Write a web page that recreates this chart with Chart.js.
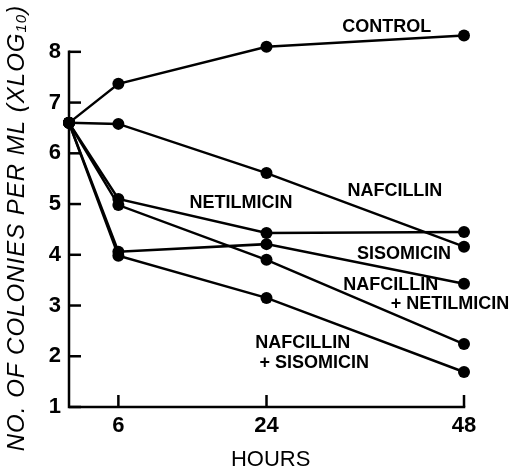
<!DOCTYPE html>
<html>
<head>
<meta charset="utf-8">
<script src="https://cdn.jsdelivr.net/npm/chart.js@4.4.1/dist/chart.umd.min.js"></script>
<style>
  html, body { margin: 0; padding: 0; background: #fff; }
  #wrap { width: 513px; height: 473px; }
</style>
</head>
<body>
<div id="wrap"><canvas id="c"></canvas></div>
<script>
// hours sampled
const hours = [0, 6, 24, 48];
const xTicks = [6, 24, 48];
const yTicks = [1, 2, 3, 4, 5, 6, 7, 8];

// log10 colonies per ml
const control = [6.6, 7.37, 8.10, 8.32];
const nafcillin = [6.6, 6.58, 5.61, 4.16];
const netilmicin = [6.6, 5.10, 4.43, 4.45];
const nafNetil = [6.6, 4.98, 3.90, 2.24];
const sisomicin = [6.6, 4.06, 4.21, 3.43];
const nafSiso = [6.6, 3.98, 3.15, 1.69];

// text labels next to the curves: [text, hours, value]
const curveLabels = [
  ['CONTROL', 38.6, 8.48],
  ['NAFCILLIN', 39.6, 5.25],
  ['NETILMICIN', 20.9, 5.02],
  ['SISOMICIN', 40.7, 4.02],
  ['NAFCILLIN', 39.1, 3.41],
  ['+ NETILMICIN', 46.3, 3.03],
  ['NAFCILLIN', 28.4, 2.26],
  ['+ SISOMICIN', 29.8, 1.87]
];

const FONT = '"Liberation Sans", Arial, sans-serif';

function series(label, vals) {
  return {
    label: label,
    data: vals.map((v, i) => ({ x: hours[i], y: v })),
    borderColor: '#000',
    backgroundColor: '#000',
    borderWidth: 2.5,
    pointRadius: 6,
    pointHoverRadius: 6,
    pointBorderWidth: 0,
    tension: 0,
    clip: false
  };
}

const extras = {
  id: 'extras',
  afterDraw(chart) {
    const ctx = chart.ctx;
    const xs = chart.scales.x, ys = chart.scales.y;
    const y1 = ys.getPixelForValue(yTicks[0]);
    const yTop = ys.getPixelForValue(yTicks[yTicks.length - 1]);
    ctx.save();
    ctx.strokeStyle = '#000';
    ctx.lineWidth = 2.5;
    ctx.lineCap = 'square';
    // axes, y axis stops at the last tick
    ctx.beginPath();
    ctx.moveTo(xs.left, yTop);
    ctx.lineTo(xs.left, y1);
    ctx.lineTo(xs.right, y1);
    ctx.stroke();
    ctx.lineCap = 'butt';
    // inward tick marks
    ys.ticks.forEach(t => {
      const py = ys.getPixelForValue(t.value);
      ctx.beginPath();
      ctx.moveTo(xs.left, py);
      ctx.lineTo(xs.left + 12, py);
      ctx.stroke();
    });
    xs.ticks.forEach(t => {
      const px = xs.getPixelForValue(t.value);
      ctx.beginPath();
      ctx.moveTo(px, y1);
      ctx.lineTo(px, y1 - 12);
      ctx.stroke();
    });

    // curve labels
    ctx.fillStyle = '#000';
    ctx.font = 'bold 18px ' + FONT;
    ctx.textAlign = 'center';
    ctx.textBaseline = 'middle';
    curveLabels.forEach(([txt, h, v]) => {
      ctx.fillText(txt, xs.getPixelForValue(h), ys.getPixelForValue(v));
    });

    // x title
    ctx.font = '22px ' + FONT;
    ctx.fillText('HOURS', xs.getPixelForValue(24.5), 460);

    // y title, rotated, with subscript
    ctx.translate(17, 228);
    ctx.rotate(-Math.PI / 2);
    ctx.textAlign = 'left';
    ctx.letterSpacing = '1px';
    const big = 'italic 24px ' + FONT, small = 'italic 15px ' + FONT;
    const parts = [['NO. OF COLONIES PER ML (XLOG', big, 0], ['10', small, 5], [')', big, 0]];
    let total = 0;
    parts.forEach(p => { ctx.font = p[1]; total += ctx.measureText(p[0]).width; });
    let x = -total / 2;
    parts.forEach(p => {
      ctx.font = p[1];
      ctx.fillText(p[0], x, p[2]);
      x += ctx.measureText(p[0]).width;
    });
    ctx.restore();
  }
};

new Chart(document.getElementById('c'), {
  type: 'line',
  data: {
    datasets: [
      series('Control', control),
      series('Nafcillin', nafcillin),
      series('Netilmicin', netilmicin),
      series('Nafcillin + Netilmicin', nafNetil),
      series('Sisomicin', sisomicin),
      series('Nafcillin + Sisomicin', nafSiso)
    ]
  },
  options: {
    responsive: true,
    maintainAspectRatio: false,
    animation: false,
    events: [],
    layout: { padding: { top: 29, right: 49, left: 0, bottom: 0 } },
    plugins: { legend: { display: false }, tooltip: { enabled: false } },
    scales: {
      x: {
        type: 'linear',
        min: 0,
        max: 48,
        afterBuildTicks: s => { s.ticks = xTicks.map(v => ({ value: v })); },
        afterFit: s => { s.height = 66; },
        grid: { display: false },
        border: { display: false },
        ticks: { color: '#000', padding: -2, maxRotation: 0, font: { family: FONT, size: 22, weight: 'bold' } }
      },
      y: {
        min: 1,
        max: 8.45,
        afterBuildTicks: s => { s.ticks = yTicks.map(v => ({ value: v })); },
        afterFit: s => { s.width = 69; },
        grid: { display: false },
        border: { display: false },
        ticks: { color: '#000', padding: 0, font: { family: FONT, size: 22, weight: 'bold' } }
      }
    }
  },
  plugins: [extras]
});
</script>
</body>
</html>
